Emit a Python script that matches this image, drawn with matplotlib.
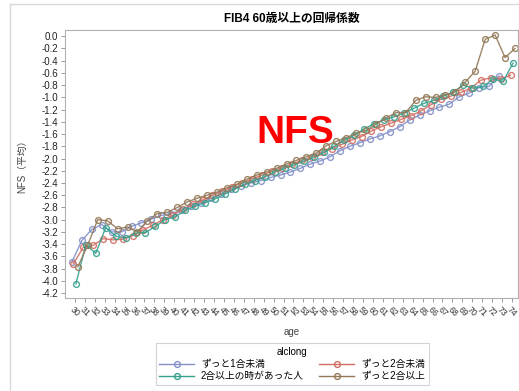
import numpy as np
import matplotlib
matplotlib.use("Agg")
import matplotlib.pyplot as plt
from matplotlib.lines import Line2D

plt.rcParams['font.family'] = ['Liberation Sans', 'Noto Sans CJK JP', 'DejaVu Sans']
plt.rcParams['axes.unicode_minus'] = True

# 年齢ごとの NFS 平均（飲酒歴グループ別）
ages = list(range(30, 75))

nfs_lt1 = [-3.69, -3.34, -3.16, -3.08, -3.20, -3.20, -3.11, -3.05, -2.99, -2.93,
           -2.90, -2.85, -2.78, -2.72, -2.65, -2.58, -2.50, -2.45, -2.40, -2.36,
           -2.31, -2.27, -2.22, -2.16, -2.09, -2.04, -1.97, -1.87, -1.80, -1.74,
           -1.68, -1.63, -1.56, -1.48, -1.37, -1.29, -1.22, -1.16, -1.11, -0.99,
           -0.93, -0.84, -0.82, -0.65, np.nan]

nfs_lt2 = [-3.72, -3.45, -3.42, -3.31, -3.33, -3.32, -3.26, -3.17, -3.09, -3.00,
           -2.93, -2.83, -2.75, -2.68, -2.60, -2.53, -2.46, -2.40, -2.33, -2.27,
           -2.21, -2.15, -2.09, -2.03, -1.97, -1.90, -1.84, -1.77, -1.70, -1.64,
           -1.55, -1.48, -1.42, -1.36, -1.30, -1.22, -1.12, -1.03, -0.98, -0.92,
           -0.85, -0.72, -0.68, -0.70, -0.64]

nfs_past2 = [-4.05, -3.41, -3.55, -3.13, -3.27, -3.30, -3.22, -3.21, -3.11, -3.00,
             -2.95, -2.85, -2.78, -2.72, -2.66, -2.58, -2.50, -2.42, -2.36, -2.30,
             -2.22, -2.16, -2.10, -2.04, -1.98, -1.90, -1.80, -1.70, -1.62, -1.52,
             -1.43, -1.37, -1.32, -1.26, -1.18, -1.10, -1.05, -0.98, -0.91, -0.80,
             -0.85, -0.82, -0.70, -0.74, -0.44]

nfs_ge2 = [-3.77, -3.41, -3.00, -3.02, -3.15, -3.12, -3.20, -3.02, -2.90, -2.88,
           -2.80, -2.71, -2.65, -2.60, -2.55, -2.48, -2.42, -2.34, -2.27, -2.22,
           -2.16, -2.09, -2.03, -1.97, -1.91, -1.79, -1.72, -1.66, -1.59, -1.54,
           -1.44, -1.34, -1.25, -1.25, -1.05, -0.99, -1.00, -0.96, -0.91, -0.75,
           -0.57, -0.05, 0.02, -0.35, -0.20]

groups = ['ずっと1合未満', 'ずっと2合未満', '2合以上の時があった人', 'ずっと2合以上']
series = [nfs_lt1, nfs_lt2, nfs_past2, nfs_ge2]
colors = ['#8390c8', '#d26e63', '#35a08e', '#937857']
# クラスタ表示のための横ずらし（年単位）
offsets = [-0.30, -0.15, 0.10, 0.30]

y_ticks = [round(v, 1) for v in np.arange(-4.2, 0.01, 0.2)]

fig = plt.figure(figsize=(5.19, 3.91), dpi=100)
ax = fig.add_axes([0.125, 0.238, 0.873, 0.685])

for vals, col, off, name in zip(series, colors, offsets, groups):
    x = np.array(ages) + off
    ax.plot(x, vals, color=col, lw=1.0, alpha=0.9, marker='o', ms=4.2,
            mfc='none', mec=col, mew=1.0, label=name)

ax.set_xlim(28.99, 74.6)
ax.set_ylim(-4.28, 0.1)
ax.set_xticks(ages)
ax.set_xticklabels([str(a) for a in ages], rotation=-45, ha='center', va='top',
                   fontsize=6.3, color='#333333')
ax.set_yticks(y_ticks)
ax.set_yticklabels(['%.1f' % v if v != 0 else '0.0' for v in y_ticks],
                   fontsize=7, color='#222222')

for s in ax.spines.values():
    s.set_color('#b0b0b0')
    s.set_linewidth(0.8)
ax.tick_params(axis='both', colors='#999999', length=3, width=0.7, pad=2)
ax.tick_params(axis='x', labelcolor='#333333')
ax.tick_params(axis='y', labelcolor='#222222')

ax.set_xlabel('age', fontsize=7, color='#444444', labelpad=6)
ax.set_ylabel('NFS（平均）', fontsize=7, color='#444444', labelpad=10)
ax.set_title('FIB4 60歳以上の回帰係数', fontsize=8.5, fontweight='bold', pad=6)

fig.text(0.568, 0.66, 'NFS', color='red', fontsize=28, fontweight='bold',
         ha='center', va='center')

# 凡例は行方向に並べる（列ごとに詰められるので順序を入れ替える）
order = [0, 2, 1, 3]
handles = [Line2D([0], [0], color=colors[i], lw=1.0, marker='o', ms=4.2,
                  mfc='none', mec=colors[i], mew=1.0) for i in order]
labels = [groups[i] for i in order]
leg = fig.legend(handles, labels, title='alclong', ncol=2, loc='center',
                 bbox_to_anchor=(0.563, 0.069), fontsize=7, title_fontsize=7,
                 frameon=True, fancybox=False, handlelength=3.6,
                 columnspacing=1.6, borderpad=0.35, labelspacing=0.25,
                 handletextpad=0.7, borderaxespad=0)
leg.get_frame().set_edgecolor('#c8c8c8')
leg.get_frame().set_linewidth(0.8)

# 外枠（左と上の細い灰色線）
fig.add_artist(Line2D([0.02, 0.02], [0.0, 0.99], color='#d8d8d8', lw=1.0))
fig.add_artist(Line2D([0.02, 1.0], [0.99, 0.99], color='#d8d8d8', lw=1.0))

fig.savefig('out.png', dpi=100)
